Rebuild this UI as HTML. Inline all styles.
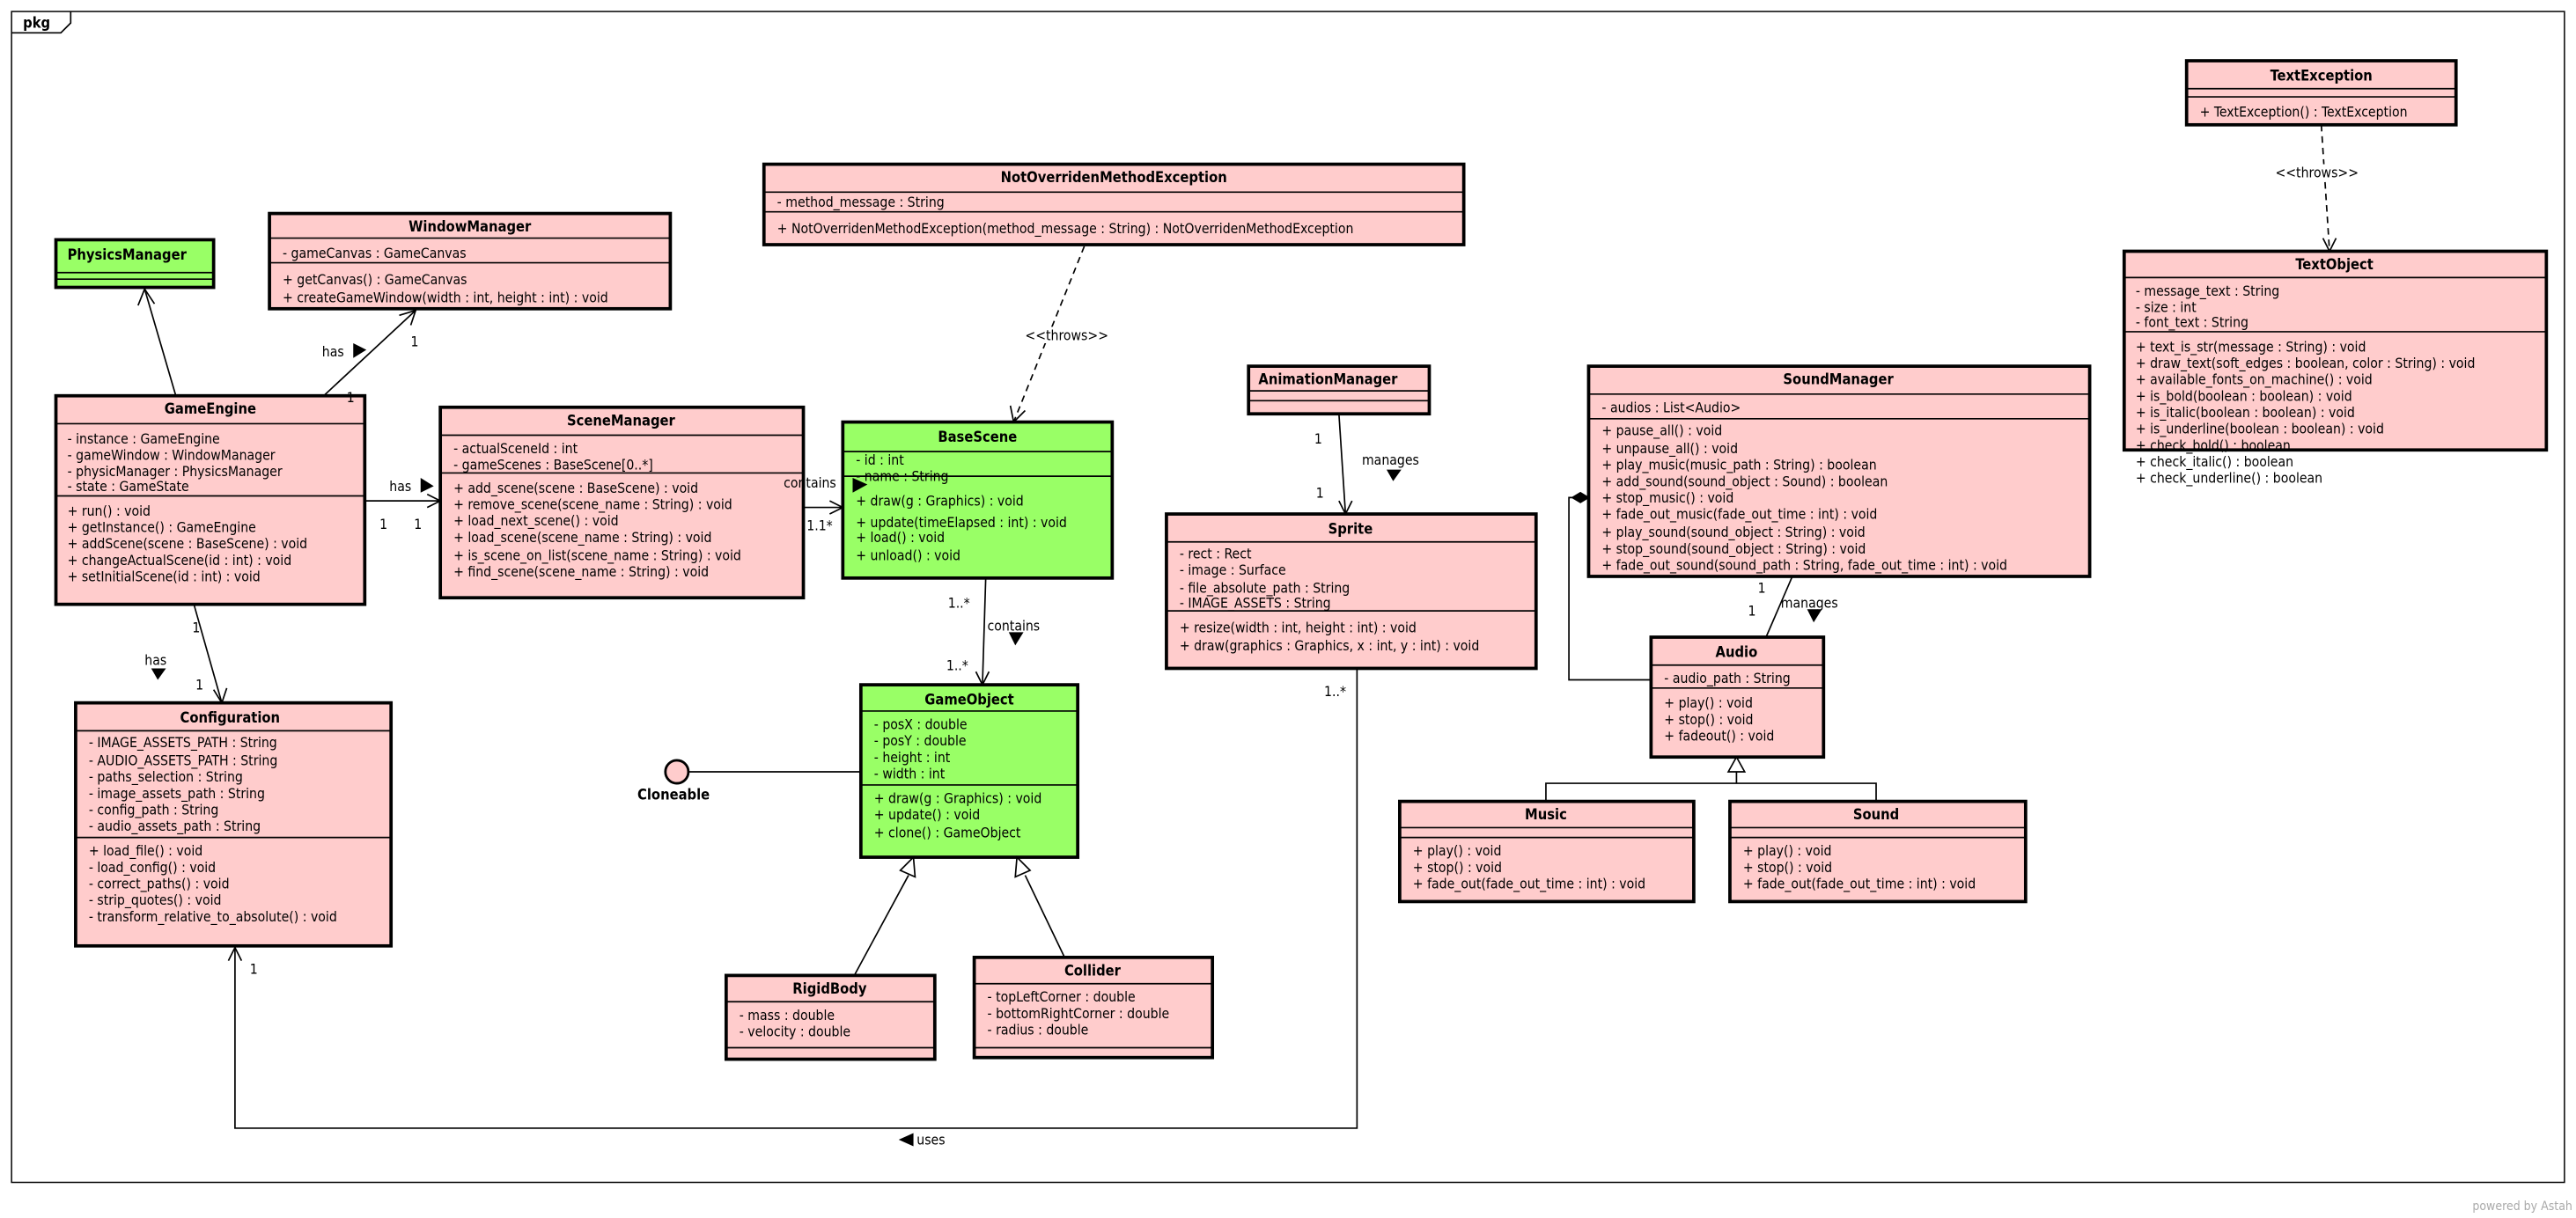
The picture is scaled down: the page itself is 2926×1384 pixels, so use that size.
<!DOCTYPE html>
<html><head><meta charset="utf-8"><style>
html,body{margin:0;padding:0;background:#fff}
svg{display:block}
text{font-family:"DejaVu Sans Condensed","Liberation Sans",sans-serif;font-size:8.4px;fill:#000}
.b{font-weight:bold;font-size:8.8px}
.p{fill:#ffcccc;stroke:#000;stroke-width:2}
.g{fill:#99ff66;stroke:#000;stroke-width:2}
.l{stroke:#000;stroke-width:0.9;fill:none}
.d{stroke:#000;stroke-width:0.9;fill:none;stroke-dasharray:4 3}
</style></head><body>
<svg width="2926" height="1384" viewBox="0 0 1568 741.7" xmlns="http://www.w3.org/2000/svg">
<rect x="0" y="0" width="1568" height="742" fill="#fff"/>
<rect x="7" y="7" width="1554" height="713" fill="none" stroke="#000" stroke-width="0.8"/>
<path d="M7 20 H37 L43 14 V7" class="l"/>
<text x="14" y="17" class="b">pkg</text>

<!-- PhysicsManager -->
<rect x="34" y="146" width="96" height="29" class="g"/>
<line x1="34" y1="166" x2="130" y2="166" class="l"/><line x1="34" y1="170" x2="130" y2="170" class="l"/>
<text x="41" y="158" class="b">PhysicsManager</text>

<!-- WindowManager -->
<rect x="164" y="130" width="244" height="58" class="p"/>
<line x1="164" y1="145" x2="408" y2="145" class="l"/><line x1="164" y1="160" x2="408" y2="160" class="l"/>
<text x="286" y="141" class="b" text-anchor="middle">WindowManager</text>
<text x="172" y="157">- gameCanvas : GameCanvas</text>
<text x="172" y="173">+ getCanvas() : GameCanvas</text>
<text x="172" y="184">+ createGameWindow(width : int, height : int) : void</text>

<!-- GameEngine -->
<rect x="34" y="241" width="188" height="127" class="p"/>
<line x1="34" y1="258" x2="222" y2="258" class="l"/><line x1="34" y1="302" x2="222" y2="302" class="l"/>
<text x="128" y="252" class="b" text-anchor="middle">GameEngine</text>
<text x="41" y="270">- instance : GameEngine</text>
<text x="41" y="280">- gameWindow : WindowManager</text>
<text x="41" y="290">- physicManager : PhysicsManager</text>
<text x="41" y="300" dy="-1">- state : GameState</text>
<text x="41" y="314">+ run() : void</text>
<text x="41" y="324">+ getInstance() : GameEngine</text>
<text x="41" y="334">+ addScene(scene : BaseScene) : void</text>
<text x="41" y="344">+ changeActualScene(id : int) : void</text>
<text x="41" y="354">+ setInitialScene(id : int) : void</text>

<!-- SceneManager -->
<rect x="268" y="248" width="221" height="116" class="p"/>
<line x1="268" y1="265" x2="489" y2="265" class="l"/><line x1="268" y1="288" x2="489" y2="288" class="l"/>
<text x="378" y="259" class="b" text-anchor="middle">SceneManager</text>
<text x="276" y="276">- actualSceneId : int</text>
<text x="276" y="286">- gameScenes : BaseScene[0..*]</text>
<text x="276" y="300">+ add_scene(scene : BaseScene) : void</text>
<text x="276" y="310">+ remove_scene(scene_name : String) : void</text>
<text x="276" y="320">+ load_next_scene() : void</text>
<text x="276" y="330">+ load_scene(scene_name : String) : void</text>
<text x="276" y="341">+ is_scene_on_list(scene_name : String) : void</text>
<text x="276" y="351">+ find_scene(scene_name : String) : void</text>

<!-- NotOverriden -->
<rect x="465" y="100" width="426" height="49" class="p"/>
<line x1="465" y1="117" x2="891" y2="117" class="l"/><line x1="465" y1="129" x2="891" y2="129" class="l"/>
<text x="678" y="111" class="b" text-anchor="middle">NotOverridenMethodException</text>
<text x="473" y="126">- method_message : String</text>
<text x="473" y="142">+ NotOverridenMethodException(method_message : String) : NotOverridenMethodException</text>

<!-- BaseScene -->
<rect x="513" y="257" width="164" height="95" class="g"/>
<line x1="513" y1="275" x2="677" y2="275" class="l"/><line x1="513" y1="290" x2="677" y2="290" class="l"/>
<text x="595" y="269" class="b" text-anchor="middle">BaseScene</text>
<text x="521" y="285" dy="-2">- id : int</text>
<text x="521" y="295" dy="-2">- name : String</text>
<text x="521" y="308">+ draw(g : Graphics) : void</text>
<text x="521" y="321">+ update(timeElapsed : int) : void</text>
<text x="521" y="330">+ load() : void</text>
<text x="521" y="341">+ unload() : void</text>

<!-- GameObject -->
<rect x="524" y="417" width="132" height="105" class="g"/>
<line x1="524" y1="433" x2="656" y2="433" class="l"/><line x1="524" y1="478" x2="656" y2="478" class="l"/>
<text x="590" y="429" class="b" text-anchor="middle">GameObject</text>
<text x="532" y="444">- posX : double</text>
<text x="532" y="454">- posY : double</text>
<text x="532" y="464">- height : int</text>
<text x="532" y="474">- width : int</text>
<text x="532" y="489">+ draw(g : Graphics) : void</text>
<text x="532" y="499">+ update() : void</text>
<text x="532" y="510">+ clone() : GameObject</text>

<!-- Cloneable -->
<line x1="419" y1="470" x2="524" y2="470" class="l"/>
<circle cx="412" cy="470" r="7" fill="#ffcccc" stroke="#000" stroke-width="1.5"/>
<text x="410" y="487" class="b" text-anchor="middle">Cloneable</text>

<!-- RigidBody -->
<rect x="442" y="594" width="127" height="51" class="p"/>
<line x1="442" y1="610" x2="569" y2="610" class="l"/><line x1="442" y1="638" x2="569" y2="638" class="l"/>
<text x="505" y="605" class="b" text-anchor="middle">RigidBody</text>
<text x="450" y="621">- mass : double</text>
<text x="450" y="631">- velocity : double</text>

<!-- Collider -->
<rect x="593" y="583" width="145" height="61" class="p"/>
<line x1="593" y1="599" x2="738" y2="599" class="l"/><line x1="593" y1="638" x2="738" y2="638" class="l"/>
<text x="665" y="594" class="b" text-anchor="middle">Collider</text>
<text x="601" y="610">- topLeftCorner : double</text>
<text x="601" y="620">- bottomRightCorner : double</text>
<text x="601" y="630">- radius : double</text>

<!-- Configuration -->
<rect x="46" y="428" width="192" height="148" class="p"/>
<line x1="46" y1="445" x2="238" y2="445" class="l"/><line x1="46" y1="510" x2="238" y2="510" class="l"/>
<text x="140" y="440" class="b" text-anchor="middle">Configuration</text>
<text x="54" y="455">- IMAGE_ASSETS_PATH : String</text>
<text x="54" y="466">- AUDIO_ASSETS_PATH : String</text>
<text x="54" y="476">- paths_selection : String</text>
<text x="54" y="486">- image_assets_path : String</text>
<text x="54" y="496">- config_path : String</text>
<text x="54" y="506">- audio_assets_path : String</text>
<text x="54" y="521">+ load_file() : void</text>
<text x="54" y="531">- load_config() : void</text>
<text x="54" y="541">- correct_paths() : void</text>
<text x="54" y="551">- strip_quotes() : void</text>
<text x="54" y="561">- transform_relative_to_absolute() : void</text>

<!-- AnimationManager -->
<rect x="760" y="223" width="110" height="29" class="p"/>
<line x1="760" y1="238" x2="870" y2="238" class="l"/><line x1="760" y1="244" x2="870" y2="244" class="l"/>
<text x="766" y="234" class="b">AnimationManager</text>

<!-- Sprite -->
<rect x="710" y="313" width="225" height="94" class="p"/>
<line x1="710" y1="330" x2="935" y2="330" class="l"/><line x1="710" y1="372" x2="935" y2="372" class="l"/>
<text x="822" y="325" class="b" text-anchor="middle">Sprite</text>
<text x="718" y="340">- rect : Rect</text>
<text x="718" y="350">- image : Surface</text>
<text x="718" y="361">- file_absolute_path : String</text>
<text x="718" y="371" dy="-1">- IMAGE_ASSETS : String</text>
<text x="718" y="385">+ resize(width : int, height : int) : void</text>
<text x="718" y="396">+ draw(graphics : Graphics, x : int, y : int) : void</text>

<!-- SoundManager -->
<rect x="967" y="223" width="305" height="128" class="p"/>
<line x1="967" y1="240" x2="1272" y2="240" class="l"/><line x1="967" y1="255" x2="1272" y2="255" class="l"/>
<text x="1119" y="234" class="b" text-anchor="middle">SoundManager</text>
<text x="975" y="251">- audios : List&lt;Audio&gt;</text>
<text x="975" y="265">+ pause_all() : void</text>
<text x="975" y="276">+ unpause_all() : void</text>
<text x="975" y="286">+ play_music(music_path : String) : boolean</text>
<text x="975" y="296">+ add_sound(sound_object : Sound) : boolean</text>
<text x="975" y="306">+ stop_music() : void</text>
<text x="975" y="316">+ fade_out_music(fade_out_time : int) : void</text>
<text x="975" y="327">+ play_sound(sound_object : String) : void</text>
<text x="975" y="337">+ stop_sound(sound_object : String) : void</text>
<text x="975" y="347">+ fade_out_sound(sound_path : String, fade_out_time : int) : void</text>

<!-- Audio -->
<rect x="1005" y="388" width="105" height="73" class="p"/>
<line x1="1005" y1="405" x2="1110" y2="405" class="l"/><line x1="1005" y1="419" x2="1110" y2="419" class="l"/>
<text x="1057" y="400" class="b" text-anchor="middle">Audio</text>
<text x="1013" y="416">- audio_path : String</text>
<text x="1013" y="431">+ play() : void</text>
<text x="1013" y="441">+ stop() : void</text>
<text x="1013" y="451">+ fadeout() : void</text>

<!-- Music -->
<rect x="852" y="488" width="179" height="61" class="p"/>
<line x1="852" y1="504" x2="1031" y2="504" class="l"/><line x1="852" y1="510" x2="1031" y2="510" class="l"/>
<text x="941" y="499" class="b" text-anchor="middle">Music</text>
<text x="860" y="521">+ play() : void</text>
<text x="860" y="531">+ stop() : void</text>
<text x="860" y="541">+ fade_out(fade_out_time : int) : void</text>

<!-- Sound -->
<rect x="1053" y="488" width="180" height="61" class="p"/>
<line x1="1053" y1="504" x2="1233" y2="504" class="l"/><line x1="1053" y1="510" x2="1233" y2="510" class="l"/>
<text x="1142" y="499" class="b" text-anchor="middle">Sound</text>
<text x="1061" y="521">+ play() : void</text>
<text x="1061" y="531">+ stop() : void</text>
<text x="1061" y="541">+ fade_out(fade_out_time : int) : void</text>

<!-- TextException -->
<rect x="1331" y="37" width="164" height="39" class="p"/>
<line x1="1331" y1="54" x2="1495" y2="54" class="l"/><line x1="1331" y1="59" x2="1495" y2="59" class="l"/>
<text x="1413" y="49" class="b" text-anchor="middle">TextException</text>
<text x="1339" y="71">+ TextException() : TextException</text>

<!-- TextObject -->
<rect x="1293" y="153" width="257" height="121" class="p"/>
<line x1="1293" y1="169" x2="1550" y2="169" class="l"/><line x1="1293" y1="202" x2="1550" y2="202" class="l"/>
<text x="1421" y="164" class="b" text-anchor="middle">TextObject</text>
<text x="1300" y="180">- message_text : String</text>
<text x="1300" y="190">- size : int</text>
<text x="1300" y="200" dy="-1">- font_text : String</text>
<text x="1300" y="214">+ text_is_str(message : String) : void</text>
<text x="1300" y="224">+ draw_text(soft_edges : boolean, color : String) : void</text>
<text x="1300" y="234">+ available_fonts_on_machine() : void</text>
<text x="1300" y="244">+ is_bold(boolean : boolean) : void</text>
<text x="1300" y="254">+ is_italic(boolean : boolean) : void</text>
<text x="1300" y="264">+ is_underline(boolean : boolean) : void</text>
<text x="1300" y="275" dy="-1">+ check_bold() : boolean</text>
<text x="1300" y="285" dy="-1">+ check_italic() : boolean</text>
<text x="1300" y="295" dy="-1">+ check_underline() : boolean</text>

<!-- connectors -->
<line x1="107" y1="241" x2="88" y2="176" class="l"/><path d="M84 186 L88 176 L94 185" class="l"/>
<line x1="197" y1="241" x2="253" y2="189" class="l"/><path d="M243 192 L253 189 L250 198" class="l"/>
<text x="196" y="217">has</text><path d="M215 209 L223 213 L215 218Z"/>
<text x="250" y="211">1</text><text x="211" y="245">1</text>
<line x1="222" y1="305" x2="268" y2="305" class="l"/><path d="M260 301 L268 305 L260 309" class="l"/>
<text x="237" y="299">has</text><path d="M256 291 L264 296 L256 300Z"/>
<text x="231" y="322">1</text><text x="252" y="322">1</text>
<line x1="489" y1="309" x2="513" y2="309" class="l"/><path d="M505 305 L513 309 L505 313" class="l"/>
<text x="477" y="297">contains</text><path d="M519 291 L528 295 L519 300Z"/>
<text x="491" y="323">1.1*</text>
<line x1="600" y1="352" x2="598" y2="417" class="l"/><path d="M594 409 L598 417 L602 409" class="l"/>
<text x="577" y="370">1..*</text><text x="601" y="384">contains</text><path d="M614 385 L623 385 L618 393Z"/>
<text x="576" y="408">1..*</text>
<line x1="520" y1="594" x2="553" y2="533" class="l"/><path d="M548 530 L556 522 L557 534Z" fill="#fff" stroke="#000" stroke-width="0.9"/>
<line x1="648" y1="583" x2="624" y2="533" class="l"/><path d="M618 534 L619 522 L627 530Z" fill="#fff" stroke="#000" stroke-width="0.9"/>
<line x1="118" y1="368" x2="135" y2="428" class="l"/><path d="M130 420 L135 428 L138 419" class="l"/>
<text x="117" y="385">1</text><text x="88" y="405">has</text><path d="M92 407 L101 407 L96 414Z"/><text x="119" y="420">1</text>
<path d="M826 407 V687 H143 V577" class="l"/><path d="M139 585 L143 577 L147 585" class="l"/>
<text x="806" y="424">1..*</text><text x="152" y="593">1</text>
<path d="M556 690 L547 694 L556 698Z"/><text x="558" y="697">uses</text>
<line x1="815" y1="252" x2="819" y2="313" class="l"/><path d="M815 305 L819 313 L823 305" class="l"/>
<text x="800" y="270">1</text><text x="829" y="283">manages</text><path d="M844 286 L853 286 L848 293Z"/><text x="801" y="303">1</text>
<line x1="660" y1="150" x2="617" y2="257" class="d"/><path d="M615 247 L617 257 L624 250" class="l"/>
<rect x="624" y="199" width="58" height="10" fill="#fff"/><text x="624" y="207">&lt;&lt;throws&gt;&gt;</text>
<line x1="1413" y1="76" x2="1418" y2="153" class="d"/><path d="M1414 145 L1418 153 L1422 145" class="l"/>
<rect x="1385" y="100" width="58" height="10" fill="#fff"/><text x="1385" y="108">&lt;&lt;throws&gt;&gt;</text>
<path d="M967 303 L962 300 L957 303 L962 306Z" fill="#000" stroke="#000" stroke-width="0.8"/>
<path d="M957 303 H955 V414 H1005" class="l"/>
<line x1="1091" y1="351" x2="1075" y2="388" class="l"/>
<text x="1070" y="361">1</text><text x="1084" y="370">manages</text><path d="M1100 371 L1109 371 L1104 379Z"/><text x="1064" y="375">1</text>
<path d="M941 488 V477 H1142 V488 M1057 477 V469" class="l"/>
<path d="M1052 470 L1057 461 L1062 470Z" fill="#fff" stroke="#000" stroke-width="0.9"/>
<text x="1505" y="737" style="fill:#aaa;font-size:7.5px">powered by Astah</text>
</svg>
</body></html>
